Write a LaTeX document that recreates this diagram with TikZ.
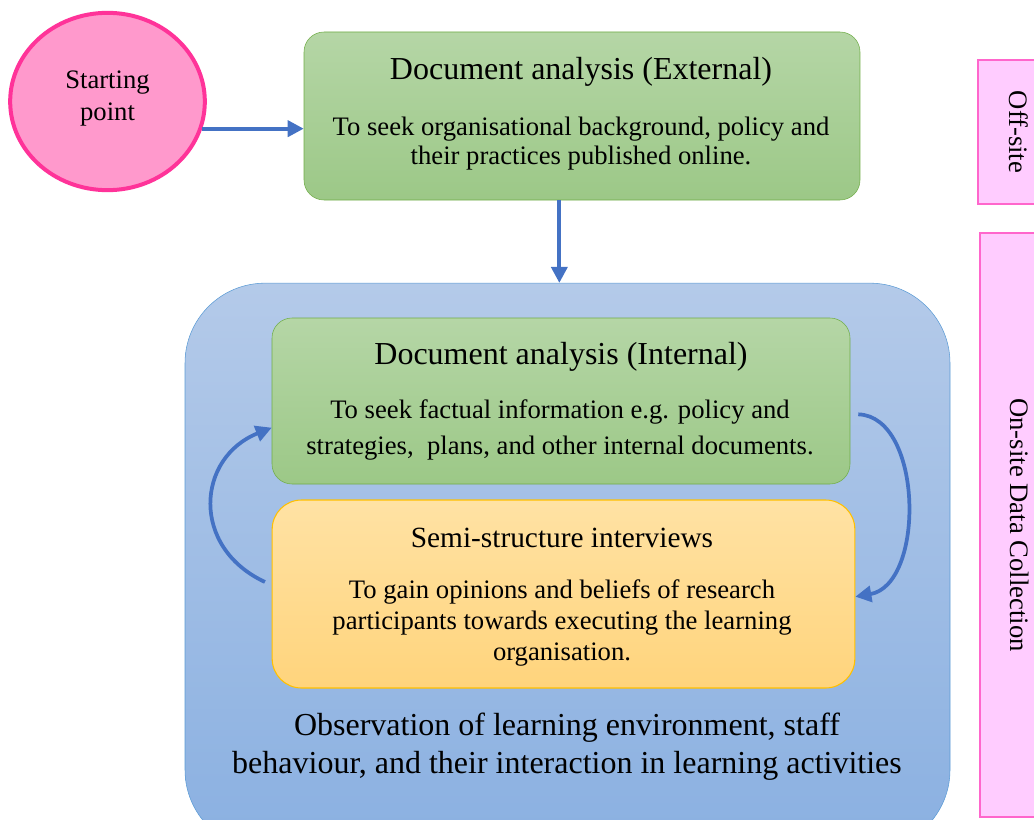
\documentclass[tikz,border=0pt]{standalone}
\usepackage{fontspec}
\setmainfont{Liberation Serif}
\usetikzlibrary{arrows.meta,shapes.geometric}
\definecolor{arrowblue}{HTML}{4472C4}
\definecolor{startfill}{HTML}{FF99CC}
\definecolor{startline}{HTML}{FF3399}
\definecolor{grntop}{HTML}{B5D6A6}
\definecolor{grnbot}{HTML}{9CC887}
\definecolor{grnline}{HTML}{70AD47}
\definecolor{blutop}{HTML}{B4CAE9}
\definecolor{blubot}{HTML}{8AB0E1}
\definecolor{bluline}{HTML}{5B9BD5}
\definecolor{yeltop}{HTML}{FFE2A4}
\definecolor{yelbot}{HTML}{FFD47C}
\definecolor{yelline}{HTML}{FFC000}
\definecolor{sidefill}{HTML}{FFCCFF}
\definecolor{sideline}{HTML}{FF66CC}
\begin{document}
\begin{tikzpicture}[x=0.75pt,y=-0.75pt,
  greenbox/.style={draw=grnline, top color=grntop, bottom color=grnbot, rounded corners=15pt},
  sidebox/.style={draw=sideline, line width=0.8pt, fill=sidefill},
  head/.style={font=\fontsize{24}{28}\selectfont},
  body/.style={font=\fontsize{20}{24}\selectfont, align=center},
  flow/.style={draw=arrowblue, line width=2.8pt, -{Triangle[length=12pt,width=12pt]}}]
\clip (0,0) rectangle (1034,820);
\node[ellipse, draw=startline, line width=3pt, fill=startfill, minimum width=146pt, minimum height=133pt] (start) at (107.5,101.5) {};
\node[body, text depth=0pt] (starttext) at (107.5,96) {Starting\\point};
\node[greenbox, minimum width=417pt, minimum height=126pt] (extdoc) at (582,116) {};
\node[head] (exthead) at (581,72) {Document analysis (External)};
\node[body, font=\fontsize{20}{21.75}\selectfont] (exttext) at (581,143.5) {To seek organisational background, policy and\\their practices published online.};
\node[draw=bluline, top color=blutop, bottom color=blubot, rounded corners=60pt, minimum width=573.75pt, minimum height=425pt] (observe) at (567.5,566.5) {};
\node[greenbox, minimum width=433.5pt, minimum height=124.5pt] (intdoc) at (561,401) {};
\node[head] (inthead) at (561,357) {Document analysis (Internal)};
\node[body, font=\fontsize{20}{27}\selectfont] (inttext) at (560,430) {To seek factual information e.g. policy and\\strategies,~ plans, and other internal documents.};
\node[draw=yelline, line width=0.8pt, top color=yeltop, bottom color=yelbot, rounded corners=22pt, minimum width=437pt, minimum height=141pt] (interview) at (563.5,594) {};
\node[head, font=\fontsize{22}{26}\selectfont] (intvhead) at (562,538) {Semi-structure interviews};
\node[body, font=\fontsize{20}{23.25}\selectfont] (intvtext) at (562,623) {To gain opinions and beliefs of research\\participants towards executing the learning\\organisation.};
\node[body, font=\fontsize{24}{28.5}\selectfont] (obstext) at (567,747) {Observation of learning environment, staff\\behaviour, and their interaction in learning activities};
\node[sidebox, minimum width=61.5pt, minimum height=108pt] (offsite) at (1019,132) {};
\node[body, rotate=-90] at (offsite.center) {Off-site};
\node[sidebox, minimum width=60pt, minimum height=438pt] (onsite) at (1020,525) {};
\node[body, rotate=-90] at (onsite.center) {On-site Data Collection};
\draw[flow] (start.-16) -- (start.-16 -| extdoc.west);
\draw[flow] ([xshift=-17pt]extdoc.south) -- ([xshift=-17pt]extdoc.south |- observe.north);
\draw[flow] ([xshift=-5pt,yshift=9pt]interview.west) .. controls +(-75,-35) and +(-75,30) .. ([yshift=-20pt]intdoc.west);
\draw[flow] ([xshift=6pt,yshift=-10pt]intdoc.east) .. controls +(65,2) and +(70,-12) .. ([yshift=-2pt]interview.east);
\end{tikzpicture}
\end{document}
